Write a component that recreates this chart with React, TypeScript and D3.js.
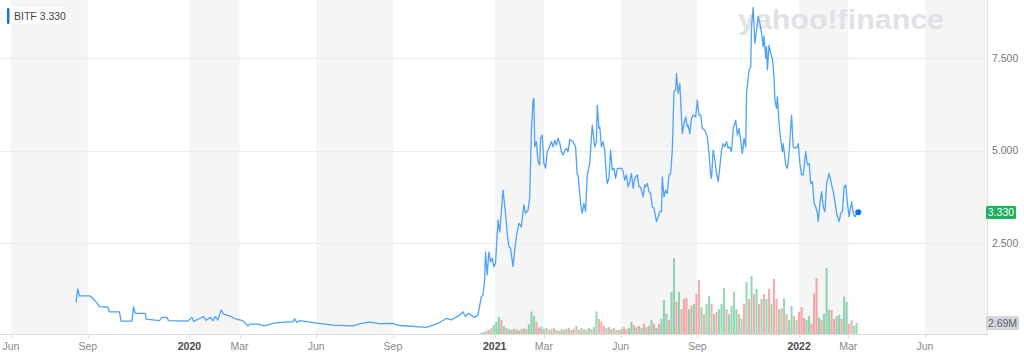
import React from "react";
import * as d3 from "d3";

const TICK_DATES = ["2019-06-01","2019-09-01","2020-01-01","2020-03-01","2020-06-01","2020-09-01","2021-01-01","2021-03-01","2021-06-01","2021-09-01","2022-01-01","2022-03-01","2022-06-01"];
const TICK_LABELS = ["Jun","Sep","2020","Mar","Jun","Sep","2021","Mar","Jun","Sep","2022","Mar","Jun"];
const Y_TICKS = [2.5, 5.0, 7.5];

const TICKER = "BITF";
const LAST_PRICE = 3.33;
const LAST_VOLUME_LABEL = "2.69M";

const PRICE: [string, number][] = [
["2019-08-18",0.89],["2019-08-20",1.26],["2019-08-22",1.07],["2019-09-04",1.07],["2019-09-11",0.91],["2019-09-15",0.78],["2019-09-25",0.77],["2019-09-27",0.64],["2019-10-09",0.64],["2019-10-11",0.39],
["2019-10-24",0.39],["2019-10-26",0.78],["2019-10-28",0.60],["2019-11-09",0.60],["2019-11-10",0.44],["2019-11-26",0.40],["2019-11-29",0.49],["2019-12-05",0.49],["2019-12-07",0.40],["2019-12-30",0.39],
["2020-01-04",0.49],["2020-01-06",0.38],["2020-01-13",0.46],["2020-01-18",0.51],["2020-01-21",0.41],["2020-01-26",0.49],["2020-01-29",0.40],["2020-02-01",0.51],["2020-02-04",0.42],["2020-02-08",0.69],
["2020-02-11",0.58],["2020-02-18",0.53],["2020-02-26",0.44],["2020-03-05",0.40],["2020-03-11",0.26],["2020-03-14",0.31],["2020-03-23",0.31],["2020-03-31",0.26],["2020-04-10",0.33],["2020-04-26",0.37],
["2020-05-04",0.37],["2020-05-06",0.45],["2020-05-09",0.35],["2020-05-12",0.40],["2020-05-19",0.38],["2020-05-28",0.35],["2020-06-21",0.28],["2020-07-15",0.26],["2020-07-25",0.33],["2020-08-04",0.36],
["2020-08-16",0.32],["2020-09-01",0.33],["2020-09-09",0.27],["2020-10-11",0.22],["2020-10-19",0.28],["2020-10-27",0.35],["2020-11-04",0.46],["2020-11-10",0.42],["2020-11-20",0.55],["2020-11-24",0.64],
["2020-11-27",0.51],["2020-11-30",0.60],["2020-12-08",0.49],["2020-12-12",0.55],["2020-12-16",1.05],["2020-12-18",1.09],["2020-12-20",1.52],["2020-12-21",2.26],["2020-12-23",1.64],["2020-12-25",2.26],
["2020-12-27",1.99],["2020-12-29",2.09],["2020-12-31",1.86],["2021-01-02",1.95],["2021-01-05",3.12],["2021-01-07",2.80],["2021-01-09",3.35],["2021-01-11",3.93],["2021-01-14",3.30],["2021-01-16",2.76],
["2021-01-18",2.40],["2021-01-20",2.36],["2021-01-23",1.86],["2021-01-25",2.31],["2021-01-27",2.67],["2021-01-30",3.03],["2021-02-02",2.94],["2021-02-05",3.53],["2021-02-07",3.30],["2021-02-10",3.39],
["2021-02-12",3.75],["2021-02-14",5.55],["2021-02-16",6.36],["2021-02-17",6.41],["2021-02-18",5.10],["2021-02-20",5.24],["2021-02-22",4.70],["2021-02-24",4.61],["2021-02-25",5.33],["2021-02-27",5.42],
["2021-03-01",4.65],["2021-03-03",4.52],["2021-03-05",4.97],["2021-03-07",5.06],["2021-03-10",5.24],["2021-03-12",5.10],["2021-03-14",5.28],["2021-03-16",5.15],["2021-03-18",5.33],["2021-03-20",5.20],
["2021-03-22",4.97],["2021-03-24",4.88],["2021-03-26",5.00],["2021-03-28",5.06],["2021-03-30",4.97],["2021-04-01",5.30],["2021-04-05",5.24],["2021-04-08",5.10],["2021-04-10",4.34],["2021-04-11",4.34],
["2021-04-14",3.57],["2021-04-16",3.30],["2021-04-18",3.57],["2021-04-20",3.35],["2021-04-22",4.34],["2021-04-25",4.65],["2021-04-28",5.69],["2021-05-01",5.10],["2021-05-03",5.24],["2021-05-04",6.23],
["2021-05-06",5.60],["2021-05-07",5.64],["2021-05-09",5.10],["2021-05-11",5.24],["2021-05-13",5.01],["2021-05-15",4.29],["2021-05-16",4.11],["2021-05-18",4.25],["2021-05-20",5.01],["2021-05-22",4.47],
["2021-05-24",4.52],["2021-05-26",4.25],["2021-05-28",4.52],["2021-06-02",4.52],["2021-06-04",4.43],["2021-06-06",4.20],["2021-06-08",4.34],["2021-06-10",4.02],["2021-06-12",4.16],["2021-06-14",4.38],
["2021-06-16",3.98],["2021-06-18",4.25],["2021-06-21",4.34],["2021-06-23",4.02],["2021-06-25",4.02],["2021-06-28",3.75],["2021-06-30",4.07],["2021-07-01",4.02],["2021-07-03",4.11],["2021-07-05",3.89],
["2021-07-07",3.84],["2021-07-09",3.48],["2021-07-11",3.44],["2021-07-13",3.21],["2021-07-14",3.08],["2021-07-16",3.21],["2021-07-18",3.35],["2021-07-20",3.35],["2021-07-21",4.29],["2021-07-23",3.75],
["2021-07-25",3.93],["2021-07-27",3.84],["2021-07-29",4.34],["2021-07-31",4.38],["2021-08-02",5.01],["2021-08-04",6.59],["2021-08-06",6.63],["2021-08-07",7.08],["2021-08-09",6.55],["2021-08-11",6.81],
["2021-08-12",6.36],["2021-08-14",5.46],["2021-08-16",5.73],["2021-08-18",5.91],["2021-08-20",5.64],["2021-08-21",5.69],["2021-08-23",5.46],["2021-08-25",5.87],["2021-08-27",5.96],["2021-08-30",5.91],
["2021-09-01",6.36],["2021-09-03",5.96],["2021-09-05",5.96],["2021-09-07",5.60],["2021-09-10",5.55],["2021-09-13",5.37],["2021-09-15",4.92],["2021-09-17",4.34],["2021-09-18",4.25],["2021-09-20",5.01],
["2021-09-22",4.74],["2021-09-24",4.38],["2021-09-26",4.16],["2021-09-28",4.56],["2021-09-30",5.01],["2021-10-02",5.19],["2021-10-04",5.10],["2021-10-06",5.24],["2021-10-08",5.06],["2021-10-10",5.10],
["2021-10-12",4.97],["2021-10-14",5.60],["2021-10-17",5.82],["2021-10-19",5.42],["2021-10-21",5.60],["2021-10-23",5.28],["2021-10-25",4.92],["2021-10-27",5.33],["2021-10-29",5.10],["2021-10-30",6.55],
["2021-11-02",7.17],["2021-11-04",7.26],["2021-11-05",8.35],["2021-11-07",8.87],["2021-11-09",7.90],["2021-11-11",8.26],["2021-11-13",8.62],["2021-11-15",8.44],["2021-11-17",8.18],["2021-11-19",7.81],
["2021-11-20",8.10],["2021-11-22",7.49],["2021-11-23",7.81],["2021-11-24",7.18],["2021-11-26",7.85],["2021-11-28",7.63],["2021-11-30",7.49],["2021-12-02",6.99],["2021-12-03",6.36],["2021-12-05",6.14],
["2021-12-06",6.46],["2021-12-08",5.73],["2021-12-10",5.28],["2021-12-12",4.97],["2021-12-13",5.19],["2021-12-16",4.61],["2021-12-18",4.52],["2021-12-20",4.92],["2021-12-22",5.64],["2021-12-23",5.96],
["2021-12-25",5.10],["2021-12-27",5.06],["2021-12-30",5.10],["2021-12-31",5.19],["2022-01-02",4.65],["2022-01-04",4.34],["2022-01-06",4.34],["2022-01-09",4.97],["2022-01-11",4.61],["2022-01-13",4.65],
["2022-01-15",4.11],["2022-01-17",4.16],["2022-01-19",3.57],["2022-01-21",3.48],["2022-01-23",3.30],["2022-01-24",3.08],["2022-01-26",3.57],["2022-01-28",3.89],["2022-01-30",3.48],["2022-02-01",3.35],
["2022-02-03",4.11],["2022-02-06",4.38],["2022-02-07",4.29],["2022-02-10",3.98],["2022-02-11",3.89],["2022-02-14",3.48],["2022-02-15",3.30],["2022-02-18",3.08],["2022-02-20",3.30],["2022-02-22",3.35],
["2022-02-24",4.02],["2022-02-26",4.07],["2022-02-28",3.57],["2022-03-02",3.21],["2022-03-04",3.48],["2022-03-05",3.62],["2022-03-07",3.30],["2022-03-09",3.21],["2022-03-11",3.30],["2022-03-13",3.33]
];

// Volume (millions), one bar every 3 days from VOLUME_START
const VOLUME_START = "2020-12-16";
const VOLUME_STEP_DAYS = 3;
const VOLUME = [
0.3,0.5,0.8,1.0,1.5,2.2,3.0,4.2,3.4,2.0,
1.5,1.2,1.0,1.3,1.1,0.9,1.2,1.4,1.2,2.4,
5.5,4.5,3.0,1.6,1.8,1.2,1.5,1.0,1.3,1.5,
1.0,0.8,1.2,1.0,1.3,1.5,1.0,1.2,2.0,1.0,
1.5,1.2,1.0,1.5,1.2,1.7,5.5,3.7,3.0,2.0,
1.5,1.7,1.2,1.5,1.0,1.0,1.3,1.7,1.2,1.5,
3.0,2.2,1.7,2.0,1.5,2.5,1.7,2.0,3.4,2.5,
1.5,2.5,3.7,8.4,5.0,3.4,10.4,18.6,7.9,10.4,
6.1,8.6,8.8,6.1,6.9,7.4,9.8,13.3,6.6,4.9,
7.4,9.3,7.4,4.9,5.4,6.1,7.4,11.3,6.1,4.9,
6.9,10.3,6.1,4.9,3.7,7.4,12.8,8.6,14.3,9.8,
11.1,7.4,8.6,9.8,8.6,11.1,7.4,13.5,8.6,6.1,
6.3,8.7,4.9,3.4,6.9,4.4,3.4,5.4,6.6,3.9,
3.4,4.4,2.5,10.0,13.7,4.0,3.4,5.0,16.2,6.0,
5.9,3.7,4.4,4.7,3.7,9.2,7.9,2.5,3.4,2.0,
2.69
];
const VOLUME_DIR = (
"uududuuudu" + "dududududu" + "uuddududud" + "ududududdu" + "uduuduuddd" +
"ududududdu" + "ududududud" + "uduuuduudu" + "dddududdud" + "uududuuudu" +
"uuudududud" + "ududududdu" + "duduududdd" + "uuddduduuu" + "dduuduuddu" + "u"
).split("");

const FONT = "'Liberation Sans', Arial, Helvetica, sans-serif";

export default function App() {
  const parse = d3.timeParse("%Y-%m-%d");
  const PLOT_RIGHT = 988;
  const PLOT_BOTTOM = 334;

  const x = d3.scaleTime()
    .domain([parse("2019-06-01") as Date, parse("2022-06-01") as Date])
    .range([11, 925]);
  const y = d3.scaleLinear().domain([0, 9.07]).range([335.5, 0]);
  const yv = d3.scaleLinear().domain([0, 82]).range([PLOT_BOTTOM, 0]);

  const pts = PRICE.map(([d, v]) => ({ d: parse(d) as Date, v }));
  const line = d3.line<{ d: Date; v: number }>().x(p => x(p.d)).y(p => y(p.v));

  const ticks = TICK_DATES.map(s => parse(s) as Date);
  const bandEdges = ticks.map(t => x(t));
  const bands: { x0: number; x1: number }[] = [];
  for (let i = 0; i < bandEdges.length; i += 2) {
    const x0 = bandEdges[i];
    const x1 = i + 1 < bandEdges.length ? bandEdges[i + 1] : PLOT_RIGHT;
    bands.push({ x0, x1: Math.min(x1, PLOT_RIGHT) });
  }

  const vStart = parse(VOLUME_START) as Date;
  const bars = VOLUME.map((v, i) => ({
    d: d3.timeDay.offset(vStart, i * VOLUME_STEP_DAYS),
    v,
    up: VOLUME_DIR[i] === "u",
  }));

  const last = pts[pts.length - 1];

  return (
    <svg width={1024} height={356} style={{ position: "absolute", left: 0, top: 0, display: "block" }}
      fontFamily={FONT}>
      <rect x={0} y={0} width={1024} height={356} fill="#ffffff" />
      {bands.map((b, i) => (
        <rect key={i} x={b.x0} y={0} width={b.x1 - b.x0} height={PLOT_BOTTOM} fill="#f5f5f5" />
      ))}
      {Y_TICKS.map(t => (
        <line key={t} x1={0} x2={PLOT_RIGHT} y1={Math.round(y(t)) + 0.5} y2={Math.round(y(t)) + 0.5}
          stroke="#ececec" strokeWidth={1} />
      ))}
      <text x={738} y={29} fontSize={28} fontWeight="bold" fill="#dfe2e7" textLength={206}
        lengthAdjust="spacingAndGlyphs" fontFamily={FONT}>yahoo!finance</text>
      {bars.map((b, i) => (
        <rect key={i} x={x(b.d) - 1.05} y={yv(b.v)} width={2.1} height={PLOT_BOTTOM - yv(b.v)}
          fill={b.up ? "rgba(0,168,80,0.42)" : "rgba(240,60,60,0.42)"} />
      ))}
      <path d={line(pts) || ""} fill="none" stroke="#4da3f7" strokeWidth={1.3} strokeLinejoin="round" />
      <circle cx={x(last.d)} cy={y(last.v)} r={3} fill="#0b74ec" />
      <line x1={0} x2={PLOT_RIGHT} y1={PLOT_BOTTOM + 0.5} y2={PLOT_BOTTOM + 0.5} stroke="#dcdcdc" />
      <line x1={PLOT_RIGHT - 0.5} x2={PLOT_RIGHT - 0.5} y1={0} y2={PLOT_BOTTOM} stroke="#e2e2e2" />
      {ticks.map((t, i) => {
        const tx = Math.round(x(t)) + 0.5;
        const isYear = /^\d{4}$/.test(TICK_LABELS[i]);
        return (
          <g key={i}>
            <line x1={tx} x2={tx} y1={PLOT_BOTTOM} y2={PLOT_BOTTOM + 4} stroke="#dcdcdc" />
            <text x={x(t)} y={350} textAnchor="middle" fontSize={10.5}
              fontWeight={isYear ? "bold" : "normal"} fill={isYear ? "#4a4a4a" : "#8a8a8a"}>
              {TICK_LABELS[i]}
            </text>
          </g>
        );
      })}
      {Y_TICKS.map(t => (
        <text key={t} x={992} y={y(t) + 3.8} fontSize={10.5} fill="#777">{t.toFixed(3)}</text>
      ))}
      <rect x={986} y={206} width={30} height={13} rx={1.5} fill="#1db05c" />
      <text x={1001} y={216} textAnchor="middle" fontSize={10.5} fill="#ffffff">{LAST_PRICE.toFixed(3)}</text>
      <rect x={986} y={316} width={33} height={14} rx={1.5} fill="#d3d7dd" />
      <text x={1002.5} y={326.5} textAnchor="middle" fontSize={10.5} fill="#5e646b">{LAST_VOLUME_LABEL}</text>
      <rect x={8} y={7} width={54} height={17} fill="#ffffff" />
      <rect x={7} y={8} width={2.5} height={16} rx={1.2} fill="#1a73e8" />
      <text x={14} y={19.5} fontSize={10.5} fill="#444">{TICKER} {LAST_PRICE.toFixed(3)}</text>
    </svg>
  );
}
